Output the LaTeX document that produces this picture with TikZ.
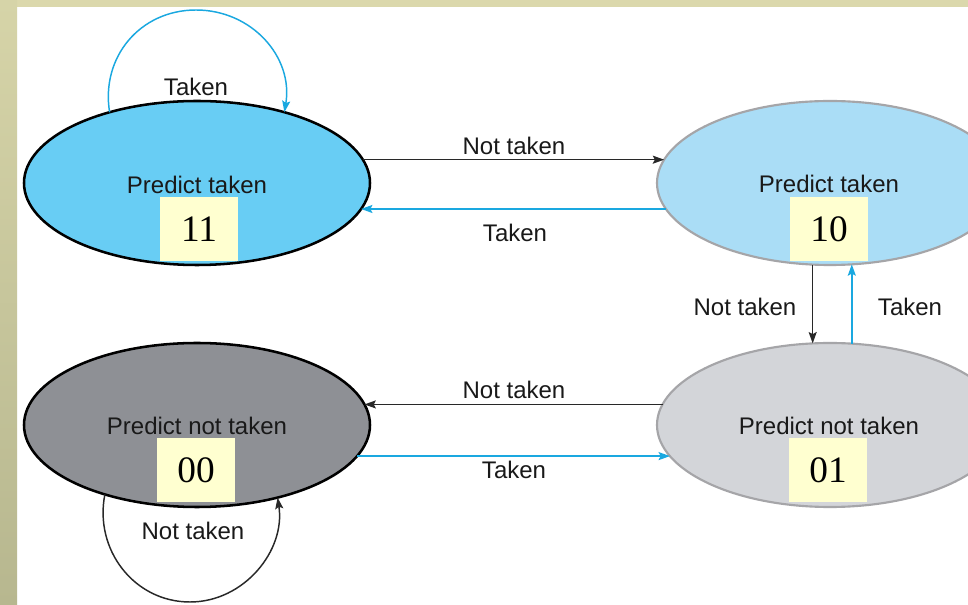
\documentclass[tikz,border=0pt]{standalone}
\usepackage{fontspec}
\setmainfont{Liberation Sans}
\newfontfamily\numfont{Liberation Serif}
\usetikzlibrary{shapes.geometric,arrows.meta}

\definecolor{bandtop}{RGB}{219,216,172}
\definecolor{stripTop}{RGB}{214,212,168}
\definecolor{stripBot}{RGB}{183,183,143}
\definecolor{fillEleven}{RGB}{104,205,244}
\definecolor{fillTen}{RGB}{170,221,246}
\definecolor{fillZero}{RGB}{142,144,149}
\definecolor{fillOne}{RGB}{211,213,217}
\definecolor{bordergray}{RGB}{165,165,168}
\definecolor{boxyellow}{RGB}{255,255,208}
\definecolor{arrowblue}{RGB}{26,168,224}
\definecolor{arrowblack}{RGB}{40,40,40}
\definecolor{textblack}{RGB}{25,25,25}

\begin{document}
\begin{tikzpicture}[x=0.75pt,y=-0.75pt,
  state/.style={ellipse, minimum width=259.5pt, minimum height=123pt, inner sep=0pt, outer sep=0pt},
  darkstate/.style={state, draw=black, line width=1.9pt},
  lightstate/.style={state, draw=bordergray, line width=1.6pt},
  lbl/.style={font=\fontsize{18}{20}\selectfont, text=textblack, inner sep=0pt},
  codebox/.style={fill=boxyellow, minimum width=58.5pt, minimum height=48pt, inner sep=0pt, text=black, font=\numfont\fontsize{28}{30}\selectfont},
  blk/.style={draw=arrowblack, line width=1.1pt, -{Stealth[length=8.5pt,width=6pt,inset=1.5pt]}},
  blu/.style={draw=arrowblue, line width=1.1pt, -{Stealth[length=8.5pt,width=6pt,inset=1.5pt]}},
]
\useasboundingbox (0,0) rectangle (968,605);
\clip (0,0) rectangle (968,605);
\fill[white] (0,0) rectangle (968,605);
\fill[bandtop] (0,0) rectangle (968,7);
\shade[top color=stripTop, bottom color=stripBot] (0,0) rectangle (17,605);

% states
\node[darkstate, fill=fillEleven] (e11) at (197,183) {};
\node[lightstate, fill=fillTen] (e10) at (830,183) {};
\node[darkstate, fill=fillZero] (e00) at (197,425) {};
\node[lightstate, fill=fillOne] (e01) at (830,425) {};

% state texts
\node[lbl] (t11) at (197,185) {Predict taken};
\node[lbl] (t10) at (829,184) {Predict taken};
\node[lbl] (t00) at (197,426) {Predict not taken};
\node[lbl] (t01) at (829,426) {Predict not taken};

% code boxes
\node[codebox] (b11) at (199,229) {11};
\node[codebox] (b10) at (829,229) {10};
\node[codebox] (b00) at (196,470) {00};
\node[codebox] (b01) at (828,470) {01};

% connectors between states
\draw[blk] (e11.8) -- (e10.172);
\draw[blu] (e10.189) -- (e11.-9);
\draw[blk] (e01.173) -- (e00.7);
\draw[blu] (e00.-11) -- (e01.191);
\draw[blk] (e10.258) -- (e01.102);
\draw[blu] (e01.75) -- (e10.-75);

% self loops
\coordinate (loopTop) at (196,10);
\coordinate (loopBot) at (190,602);
\draw[blu] (e11.141) .. controls +(-9,-55) and +(-56,0) .. (loopTop)
  .. controls +(56,0) and +(9,-55) .. (e11.39);
\draw[blk] (e00.217) .. controls +(-11,55) and +(-56,0) .. (loopBot)
  .. controls +(54,0) and +(8,53) .. (e00.-42);

% connector labels
\node[lbl] (l1) at (196,87) {Taken};
\node[lbl] (l2) at (514,146) {Not taken};
\node[lbl] (l3) at (515,233) {Taken};
\node[lbl] (l4) at (745,307) {Not taken};
\node[lbl] (l5) at (910,307) {Taken};
\node[lbl] (l6) at (514,390) {Not taken};
\node[lbl] (l7) at (514,470) {Taken};
\node[lbl] (l8) at (193,531) {Not taken};
\end{tikzpicture}
\end{document}
